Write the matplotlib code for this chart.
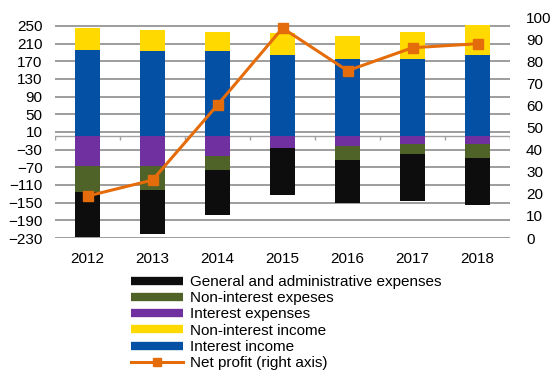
import matplotlib
matplotlib.use("Agg")
import matplotlib.pyplot as plt
import numpy as np
from matplotlib.lines import Line2D

plt.rcParams["font.family"] = ["Liberation Sans", "DejaVu Sans"]

years = ["2012", "2013", "2014", "2015", "2016", "2017", "2018"]
interest_income = [196, 192, 192, 183, 175, 175, 183]
non_interest_income = [50, 49, 45, 50, 53, 62, 68]
interest_expenses = [-66, -66, -44, -26, -22, -17, -17]
non_interest_expenses = [-60, -55, -32, 0, -32, -23, -32]
general_admin = [-101, -101, -102, -106, -97, -107, -107]
net_profit = [19.0, 26.2, 60.2, 95.0, 75.7, 86.1, 87.9]

C_BLUE = "#0450a4"
C_YELLOW = "#ffd900"
C_PURPLE = "#7030a0"
C_GREEN = "#4f6228"
C_BLACK = "#0d0d0d"
C_ORANGE = "#e46c0a"
FS = 11

fig = plt.figure(figsize=(5.54, 3.72), dpi=100)
ax = fig.add_axes([0.0993, 0.3602, 0.8213, 0.5941])
x = np.arange(len(years))
w = 0.39

ii = np.array(interest_income)
nii = np.array(non_interest_income)
ie = np.array(interest_expenses)
nie = np.array(non_interest_expenses)
ga = np.array(general_admin)

ax.bar(x, ii, w, color=C_BLUE, zorder=2)
ax.bar(x, nii, w, bottom=ii, color=C_YELLOW, zorder=2)
ax.bar(x, ie, w, color=C_PURPLE, zorder=2)
ax.bar(x, nie, w, bottom=ie, color=C_GREEN, zorder=2)
ax.bar(x, ga, w, bottom=ie + nie, color=C_BLACK, zorder=2)

ax.set_xlim(-0.5, len(years) - 0.5)
ax.set_ylim(-230, 270)
ax.set_yticks(np.arange(-230, 251, 40))
ax.yaxis.grid(True, color="#8c8c8c", lw=1.2)
ax.set_axisbelow(True)
for s in ax.spines.values():
    s.set_visible(False)
ax.tick_params(axis="y", length=0, pad=9, labelsize=FS)
ax.set_xticks(x)
ax.set_xticklabels(years)
ax.tick_params(axis="x", length=0, pad=10, labelsize=FS)

# category axis at zero with boundary tick marks
ax.axhline(0, color="#a0a0a0", lw=1.0, zorder=1)
ax.vlines(np.arange(-0.5, len(years)), -8, 0, color="#a0a0a0", lw=1.0, zorder=1)

ax2 = ax.twinx()
ax2.set_position(ax.get_position())
ax2.plot(x, net_profit, color=C_ORANGE, lw=2.2, marker="s", ms=7.5, zorder=3)
ax2.set_ylim(0, 100)
ax2.set_yticks(np.arange(0, 101, 10))
ax2.tick_params(axis="y", length=0, pad=11.5, labelsize=FS)
for s in ax2.spines.values():
    s.set_visible(False)

handles = [
    Line2D([], [], color=C_BLACK, lw=6, solid_capstyle="butt"),
    Line2D([], [], color=C_GREEN, lw=6, solid_capstyle="butt"),
    Line2D([], [], color=C_PURPLE, lw=6, solid_capstyle="butt"),
    Line2D([], [], color=C_YELLOW, lw=6, solid_capstyle="butt"),
    Line2D([], [], color=C_BLUE, lw=6, solid_capstyle="butt"),
    Line2D([], [], color=C_ORANGE, lw=2.2, marker="s", ms=6),
]
labels = [
    "General and administrative expenses",
    "Non-interest expeses",
    "Interest expenses",
    "Non-interest income",
    "Interest income",
    "Net profit (right axis)",
]
fig.legend(handles, labels, loc="upper left", bbox_to_anchor=(0.2365, 0.261),
           frameon=False, fontsize=FS, handlelength=3.4, handletextpad=0.45,
           labelspacing=0.15, borderpad=0, borderaxespad=0)

fig.savefig("out.png", dpi=100)
